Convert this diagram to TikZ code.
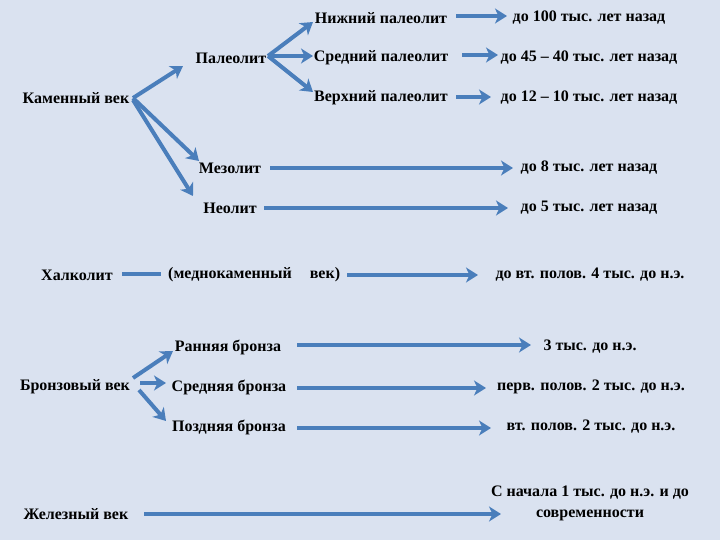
\documentclass[tikz,border=0pt]{standalone}
\usepackage{fontspec}
\setmainfont{Liberation Serif}
\usetikzlibrary{arrows.meta}
\definecolor{bg}{HTML}{DAE2F0}
\definecolor{arr}{HTML}{4A7EBB}
\tikzset{
  lbl/.style={inner sep=0pt, font=\fontsize{16}{18}\selectfont\bfseries, text=black},
  arw/.style={draw=arr, line width=4pt, -{Stealth[length=12pt,width=15pt,inset=3.5pt]}},
  ln/.style={draw=arr, line width=4pt},
}
\begin{document}
\begin{tikzpicture}[x=1pt,y=-1pt]
\fill[bg] (0,0) rectangle (720,540);
\useasboundingbox (0,0) rectangle (720,540);
% Stone age
\node[lbl] (kam) at (76,98) {Каменный век};
\node[lbl] (pal) at (231,58) {Палеолит};
\node[lbl] (nizh) at (381,18) {Нижний палеолит};
\node[lbl] (sred) at (381,58) {Средний палеолит};
\node[lbl] (verh) at (381,98) {Верхний палеолит};
\node[lbl] (t1) at (589,18) {до 100 тыс. лет назад};
\node[lbl] (t2) at (589,58) {до 45 – 40 тыс. лет назад};
\node[lbl] (t3) at (589,98) {до 12 – 10 тыс. лет назад};
\node[lbl] (mez) at (230,168) {Мезолит};
\node[lbl] (neo) at (230,208) {Неолит};
\node[lbl] (t4) at (589,168) {до 8 тыс. лет назад};
\node[lbl] (t5) at (589,208) {до 5 тыс. лет назад};
\coordinate (k0) at (133,98);
\coordinate (p0) at (268,56);
\draw[arw] (k0) -- (183,66);
\draw[arw] (k0) -- (199,161);
\draw[arw] (133,100) -- (193,196);
\draw[arw] (p0) -- (313,22);
\draw[arw] (p0) -- (313,56);
\draw[arw] (p0) -- (313,92);
\draw[arw] (456,16) -- (507,16);
\draw[arw] (462,55) -- (498,55);
\draw[arw] (456,97) -- (491,97);
\draw[arw] (270,168) -- (513,168);
\draw[arw] (264,208) -- (508,208);
% Chalcolithic
\node[lbl] (hal) at (77,275) {Халколит};
\node[lbl] (med) at (230,275) {(меднокаменный};
\node[lbl] (vek) at (325,275) {век)};
\node[lbl] (t6) at (590,275) {до вт. полов. 4 тыс. до н.э.};
\draw[ln] (122,274) -- (161,274);
\draw[arw] (347,275) -- (478,275);
% Bronze age
\node[lbl] (bron) at (75,387) {Бронзовый век};
\node[lbl] (rb) at (228,347) {Ранняя бронза};
\node[lbl] (sb) at (229,387) {Средняя бронза};
\node[lbl] (pb) at (229,427) {Поздняя бронза};
\node[lbl] (t7) at (590,347) {3 тыс. до н.э.};
\node[lbl] (t8) at (591,387) {перв. полов. 2 тыс. до н.э.};
\node[lbl] (t9) at (591,427) {вт. полов. 2 тыс. до н.э.};
\draw[arw] (133,378) -- (173,351);
\draw[arw] (140,383) -- (166,383);
\draw[arw] (139,390) -- (166,421);
\draw[arw] (297,345) -- (531,345);
\draw[arw] (297,388) -- (486,388);
\draw[arw] (297,428) -- (491,428);
% Iron age
\node[lbl] (zhel) at (76,514) {Железный век};
\node[lbl, align=center] (t10) at (590,503) {С начала 1 тыс. до н.э. и до\\[3pt]современности};
\draw[arw] (144,514) -- (501,514);
\end{tikzpicture}
\end{document}
